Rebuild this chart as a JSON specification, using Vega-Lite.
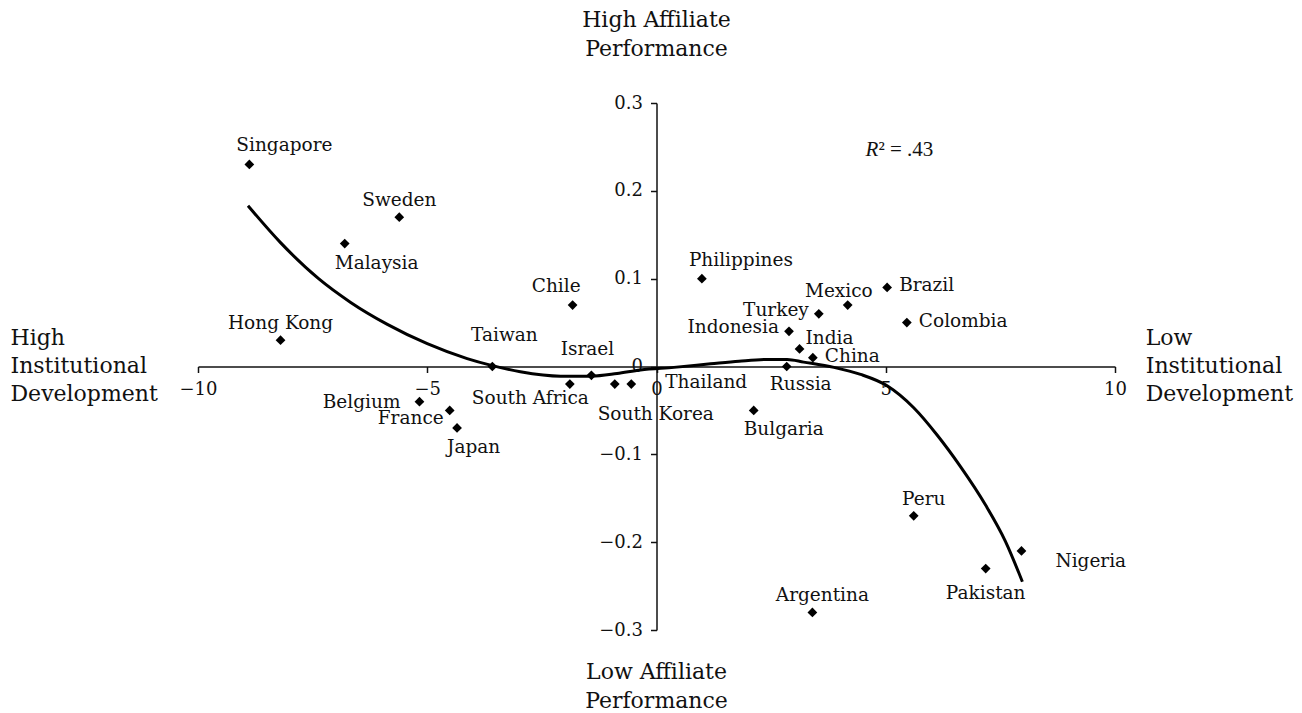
{
  "$schema": "https://vega.github.io/schema/vega-lite/v6.json",
  "width": 917,
  "height": 527,
  "autosize": {"type": "none"},
  "padding": {"left": 198, "top": 103, "right": 187, "bottom": 83},
  "background": "white",
  "config": {
    "view": {"stroke": null},
    "font": "DejaVu Serif",
    "text": {"font": "DejaVu Serif", "fontSize": 18.5, "color": "#111"}
  },
  "datasets": {
    "points": [
      {"country": "Singapore", "x": -8.88, "y": 0.23},
      {"country": "Sweden", "x": -5.61, "y": 0.17},
      {"country": "Malaysia", "x": -6.8, "y": 0.14},
      {"country": "Hong Kong", "x": -8.2, "y": 0.03},
      {"country": "Chile", "x": -1.83, "y": 0.07},
      {"country": "Taiwan", "x": -3.58, "y": 0.0},
      {"country": "Israel", "x": -1.42, "y": -0.01},
      {"country": "South Africa", "x": -1.89, "y": -0.02},
      {"country": "South Korea", "x": -0.91, "y": -0.02},
      {"country": "Thailand", "x": -0.55, "y": -0.02},
      {"country": "Belgium", "x": -5.17, "y": -0.04},
      {"country": "France", "x": -4.51, "y": -0.05},
      {"country": "Japan", "x": -4.35, "y": -0.07},
      {"country": "Philippines", "x": 0.99, "y": 0.1},
      {"country": "Mexico", "x": 4.17, "y": 0.07},
      {"country": "Brazil", "x": 5.03, "y": 0.09},
      {"country": "Turkey", "x": 3.54, "y": 0.06},
      {"country": "Colombia", "x": 5.46, "y": 0.05},
      {"country": "Indonesia", "x": 2.89, "y": 0.04},
      {"country": "India", "x": 3.12, "y": 0.02},
      {"country": "China", "x": 3.41, "y": 0.01},
      {"country": "Russia", "x": 2.84, "y": 0.0},
      {"country": "Bulgaria", "x": 2.12, "y": -0.05},
      {"country": "Peru", "x": 5.61, "y": -0.17},
      {"country": "Pakistan", "x": 7.18, "y": -0.23},
      {"country": "Nigeria", "x": 7.96, "y": -0.21},
      {"country": "Argentina", "x": 3.4, "y": -0.28}
    ],
    "curve": [
      {"x": -8.91, "y": 0.183},
      {"x": -8.2, "y": 0.141},
      {"x": -7.37, "y": 0.1},
      {"x": -6.67, "y": 0.073},
      {"x": -5.87, "y": 0.048},
      {"x": -5.0, "y": 0.026},
      {"x": -4.13, "y": 0.009},
      {"x": -3.58, "y": 0.001},
      {"x": -2.97, "y": -0.006},
      {"x": -2.09, "y": -0.011},
      {"x": -1.42, "y": -0.011},
      {"x": -0.86, "y": -0.008},
      {"x": -0.35, "y": -0.004},
      {"x": 0.38, "y": -0.001},
      {"x": 1.18, "y": 0.003},
      {"x": 1.8, "y": 0.006},
      {"x": 2.4, "y": 0.008},
      {"x": 2.85, "y": 0.008},
      {"x": 3.21, "y": 0.005},
      {"x": 3.87, "y": -0.001},
      {"x": 4.45, "y": -0.009},
      {"x": 5.03, "y": -0.022},
      {"x": 5.61, "y": -0.047},
      {"x": 6.12, "y": -0.078},
      {"x": 6.63, "y": -0.114},
      {"x": 7.18, "y": -0.158},
      {"x": 7.61, "y": -0.199},
      {"x": 7.98, "y": -0.245}
    ],
    "notes": [
      {"label": ["High Affiliate", "Performance"], "x": 0, "y": 0.395, "kind": "top"},
      {"label": ["Low Affiliate", "Performance"], "x": 0, "y": -0.348, "kind": "bottom"},
      {"label": ["High", "Institutional", "Development"], "x": -14.09, "y": 0.033, "kind": "left"},
      {"label": ["Low", "Institutional", "Development"], "x": 10.67, "y": 0.033, "kind": "right"}
    ],
    "rsq": [
      {"x": 4.84, "y": 0.247, "r": "R", "rest": "² = .43"}
    ]
  },
  "encoding": {
    "x": {
      "field": "x", "type": "quantitative",
      "scale": {"domain": [-10, 10], "nice": false, "zero": false},
      "axis": {
        "title": null, "values": [-10, -5, 0, 5, 10], "format": "d",
        "offset": -263.5, "grid": false,
        "domainColor": "#111", "domainWidth": 1.5,
        "tickColor": "#111", "tickSize": 6, "tickWidth": 1.5,
        "labelFont": "DejaVu Serif", "labelFontSize": 18, "labelColor": "#111",
        "labelPadding": 8, "labelFlush": false, "labelOverlap": false
      }
    },
    "y": {
      "field": "y", "type": "quantitative",
      "scale": {"domain": [-0.3, 0.3], "nice": false, "zero": false},
      "axis": {
        "title": null, "values": [-0.3, -0.2, -0.1, 0, 0.1, 0.2, 0.3],
        "labelExpr": "datum.value == 0 ? '0' : format(datum.value, '.1f')",
        "offset": -458.5, "grid": false,
        "domainColor": "#111", "domainWidth": 1.5,
        "tickColor": "#111", "tickSize": 6, "tickWidth": 1.5,
        "labelFont": "DejaVu Serif", "labelFontSize": 18, "labelColor": "#111",
        "labelPadding": 8, "labelFlush": false, "labelOverlap": false
      }
    }
  },
  "layer": [
    {
      "data": {"name": "curve"},
      "mark": {"type": "line", "color": "#000", "strokeWidth": 3, "interpolate": "monotone"}
    },
    {
      "data": {"name": "points"},
      "mark": {"type": "point", "shape": "diamond", "filled": true, "color": "#000", "opacity": 1, "size": 95}
    },
    {
      "data": {"name": "points"},
      "transform": [{"filter": {"field": "country", "oneOf": ["Sweden", "Hong Kong"]}}],
      "mark": {"type": "text", "align": "center", "baseline": "middle", "dx": 0, "dy": -17},
      "encoding": {"text": {"field": "country"}}
    },
    {
      "data": {"name": "points"},
      "transform": [{"filter": {"field": "country", "oneOf": ["Peru", "Argentina"]}}],
      "mark": {"type": "text", "align": "center", "baseline": "middle", "dx": 10, "dy": -17},
      "encoding": {"text": {"field": "country"}}
    },
    {
      "data": {"name": "points"},
      "transform": [{"filter": {"field": "country", "oneOf": ["Taiwan"]}}],
      "mark": {"type": "text", "align": "center", "baseline": "middle", "dx": 12, "dy": -32},
      "encoding": {"text": {"field": "country"}}
    },
    {
      "data": {"name": "points"},
      "transform": [{"filter": {"field": "country", "oneOf": ["Israel"]}}],
      "mark": {"type": "text", "align": "center", "baseline": "middle", "dx": -4, "dy": -26},
      "encoding": {"text": {"field": "country"}}
    },
    {
      "data": {"name": "points"},
      "transform": [{"filter": {"field": "country", "oneOf": ["Singapore", "Philippines"]}}],
      "mark": {"type": "text", "align": "left", "baseline": "middle", "dx": -13, "dy": -19},
      "encoding": {"text": {"field": "country"}}
    },
    {
      "data": {"name": "points"},
      "transform": [{"filter": {"field": "country", "oneOf": ["Malaysia", "Bulgaria", "Japan"]}}],
      "mark": {"type": "text", "align": "left", "baseline": "middle", "dx": -10, "dy": 19},
      "encoding": {"text": {"field": "country"}}
    },
    {
      "data": {"name": "points"},
      "transform": [{"filter": {"field": "country", "oneOf": ["Turkey", "Indonesia"]}}],
      "mark": {"type": "text", "align": "right", "baseline": "middle", "dx": -10, "dy": -4},
      "encoding": {"text": {"field": "country"}}
    },
    {
      "data": {"name": "points"},
      "transform": [{"filter": {"field": "country", "oneOf": ["Belgium"]}}],
      "mark": {"type": "text", "align": "right", "baseline": "middle", "dx": -19, "dy": 0},
      "encoding": {"text": {"field": "country"}}
    },
    {
      "data": {"name": "points"},
      "transform": [{"filter": {"field": "country", "oneOf": ["France"]}}],
      "mark": {"type": "text", "align": "right", "baseline": "middle", "dx": -6, "dy": 8},
      "encoding": {"text": {"field": "country"}}
    },
    {
      "data": {"name": "points"},
      "transform": [{"filter": {"field": "country", "oneOf": ["Mexico"]}}],
      "mark": {"type": "text", "align": "right", "baseline": "middle", "dx": 25, "dy": -14},
      "encoding": {"text": {"field": "country"}}
    },
    {
      "data": {"name": "points"},
      "transform": [{"filter": {"field": "country", "oneOf": ["Chile"]}}],
      "mark": {"type": "text", "align": "right", "baseline": "middle", "dx": 8, "dy": -19},
      "encoding": {"text": {"field": "country"}}
    },
    {
      "data": {"name": "points"},
      "transform": [{"filter": {"field": "country", "oneOf": ["South Africa"]}}],
      "mark": {"type": "text", "align": "right", "baseline": "middle", "dx": 19, "dy": 14},
      "encoding": {"text": {"field": "country"}}
    },
    {
      "data": {"name": "points"},
      "transform": [{"filter": {"field": "country", "oneOf": ["Brazil", "Colombia", "China"]}}],
      "mark": {"type": "text", "align": "left", "baseline": "middle", "dx": 12, "dy": -2},
      "encoding": {"text": {"field": "country"}}
    },
    {
      "data": {"name": "points"},
      "transform": [{"filter": {"field": "country", "oneOf": ["India"]}}],
      "mark": {"type": "text", "align": "left", "baseline": "middle", "dx": 6, "dy": -11},
      "encoding": {"text": {"field": "country"}}
    },
    {
      "data": {"name": "points"},
      "transform": [{"filter": {"field": "country", "oneOf": ["Thailand"]}}],
      "mark": {"type": "text", "align": "left", "baseline": "middle", "dx": 34, "dy": -2},
      "encoding": {"text": {"field": "country"}}
    },
    {
      "data": {"name": "points"},
      "transform": [{"filter": {"field": "country", "oneOf": ["Nigeria"]}}],
      "mark": {"type": "text", "align": "left", "baseline": "middle", "dx": 34, "dy": 10},
      "encoding": {"text": {"field": "country"}}
    },
    {
      "data": {"name": "points"},
      "transform": [{"filter": {"field": "country", "oneOf": ["Russia"]}}],
      "mark": {"type": "text", "align": "center", "baseline": "middle", "dx": 14, "dy": 17},
      "encoding": {"text": {"field": "country"}}
    },
    {
      "data": {"name": "points"},
      "transform": [{"filter": {"field": "country", "oneOf": ["South Korea"]}}],
      "mark": {"type": "text", "align": "center", "baseline": "middle", "dx": 41, "dy": 30},
      "encoding": {"text": {"field": "country"}}
    },
    {
      "data": {"name": "points"},
      "transform": [{"filter": {"field": "country", "oneOf": ["Pakistan"]}}],
      "mark": {"type": "text", "align": "center", "baseline": "middle", "dx": 0, "dy": 24},
      "encoding": {"text": {"field": "country"}}
    },
    {
      "data": {"name": "notes"},
      "transform": [{"filter": {"field": "kind", "oneOf": ["top", "bottom"]}}],
      "mark": {"type": "text", "align": "center", "baseline": "middle", "fontSize": 22, "lineHeight": 29},
      "encoding": {"text": {"field": "label"}}
    },
    {
      "data": {"name": "notes"},
      "transform": [{"filter": {"field": "kind", "oneOf": ["left", "right"]}}],
      "mark": {"type": "text", "align": "left", "baseline": "middle", "fontSize": 22, "lineHeight": 28},
      "encoding": {"text": {"field": "label"}}
    },
    {
      "data": {"name": "rsq"},
      "mark": {"type": "text", "align": "right", "baseline": "middle", "font": "Liberation Serif", "fontStyle": "italic", "fontSize": 21},
      "encoding": {"text": {"field": "r"}}
    },
    {
      "data": {"name": "rsq"},
      "mark": {"type": "text", "align": "left", "baseline": "middle", "font": "Liberation Serif", "fontSize": 21},
      "encoding": {"text": {"field": "rest"}}
    }
  ]
}
